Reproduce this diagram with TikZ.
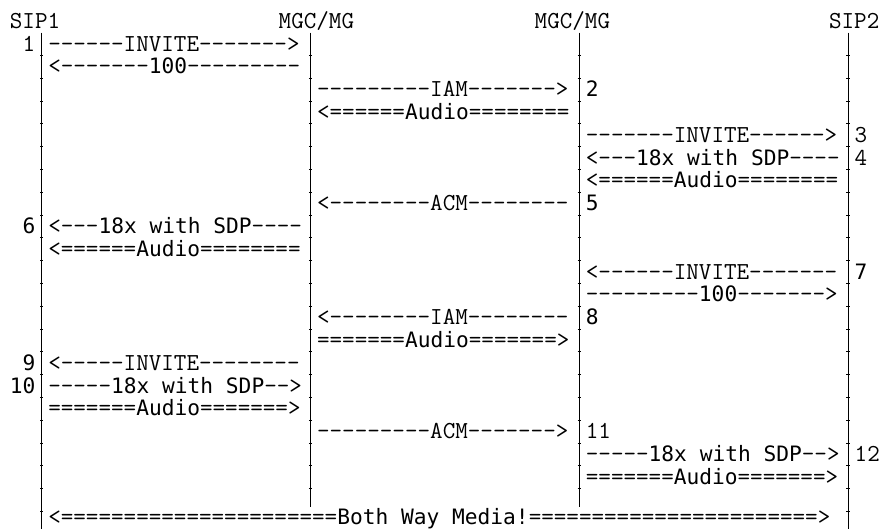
\documentclass[tikz,border=0pt]{standalone}
\usepackage{fontspec}
\newfontfamily\dvmono{DejaVu Sans Mono}
\usepackage{tikz}
\tikzstyle{txt} = [anchor=base west, inner sep=0pt, yshift=-7.2pt, font=\ttfamily\fontsize{24.4}{24.4}\selectfont]
\tikzstyle{life} = [line width=1.1pt]
\newcommand{\sn}[1]{{\dvmono\fontsize{21.2}{21.2}\selectfont #1}}

\begin{document}
\begin{tikzpicture}[x=12.8pt, y=-22.8pt]
    \useasboundingbox (-0.758,-0.93) rectangle (68.15,22.27);
    \node[txt] (sip1) at (0,0) {SIP1};
    \node[txt] (mgc1) at (21,0) {MGC/MG};
    \node[txt] (mgc2) at (41,0) {MGC/MG};
    \node[txt] (sip2) at (64,0) {SIP2};

    \coordinate (sip1top) at (2.5,0.5);   \coordinate (sip1bot) at (2.5,22.27);
    \coordinate (mgc1top) at (23.5,0.5);  \coordinate (mgc1bot) at (23.5,21.3);
    \coordinate (mgc2top) at (44.5,0.5);  \coordinate (mgc2bot) at (44.5,21.3);
    \coordinate (sip2top) at (65.5,0.5);  \coordinate (sip2bot) at (65.5,22.27);
    \draw[life] (sip1top) -- (sip1bot);
    \draw[life] (mgc1top) -- (mgc1bot);
    \draw[life] (mgc2top) -- (mgc2bot);
    \draw[life] (sip2top) -- (sip2bot);
    \foreach \r in {1.5,2.5,...,21.5}
        \draw[line width=0.6pt] (2.5,\r) ++(-1.6pt,0) -- ++(3.2pt,0)
                                (65.5,\r) ++(-1.6pt,0) -- ++(3.2pt,0);
    \foreach \r in {1.5,2.5,...,20.5}
        \draw[line width=0.6pt] (23.5,\r) ++(-1.6pt,0) -- ++(3.2pt,0)
                                (44.5,\r) ++(-1.6pt,0) -- ++(3.2pt,0);

    \node[txt] (n1) at (1,1) {1};
    \node[txt] (n2) at (45,3) {\sn{2}};
    \node[txt] (n3) at (66,5) {3};
    \node[txt] (n4) at (66,6) {4};
    \node[txt] (n5) at (45,8) {\sn{5}};
    \node[txt] (n6) at (1,9) {\sn{6}};
    \node[txt] (n7) at (66,11) {\sn{7}};
    \node[txt] (n8) at (45,13) {\sn{8}};
    \node[txt] (n9) at (1,15) {\sn{9}};
    \node[txt] (n10) at (0,16) {\sn{10}};
    \node[txt] (n11) at (45,18) {11};
    \node[txt] (n12) at (66,19) {12};

    \node[txt] (invite1) at (3,1) {------INVITE------->};
    \node[txt] (trying1) at (3,2) {<-------\sn{100}---------};
    \node[txt] (iam1) at (24,3) {---------IAM------->};
    \node[txt] (audio1) at (24,4) {<======\sn{Audio}========};
    \node[txt] (invite2) at (45,5) {-------INVITE------>};
    \node[txt] (sdp1) at (45,6) {<---\sn{18x with SDP}----};
    \node[txt] (audio2) at (45,7) {<======\sn{Audio}========};
    \node[txt] (acm1) at (24,8) {<--------ACM--------};
    \node[txt] (sdp2) at (3,9) {<---\sn{18x with SDP}----};
    \node[txt] (audio3) at (3,10) {<======\sn{Audio}========};
    \node[txt] (invite3) at (45,11) {<------INVITE-------};
    \node[txt] (trying2) at (45,12) {---------\sn{100}------->};
    \node[txt] (iam2) at (24,13) {<--------IAM--------};
    \node[txt] (audio4) at (24,14) {=======\sn{Audio}=======>};
    \node[txt] (invite4) at (3,15) {<-----INVITE--------};
    \node[txt] (sdp3) at (3,16) {-----\sn{18x with SDP}-->};
    \node[txt] (audio5) at (3,17) {=======\sn{Audio}=======>};
    \node[txt] (acm2) at (24,18) {---------ACM------->};
    \node[txt] (sdp4) at (45,19) {-----\sn{18x with SDP}-->};
    \node[txt] (audio6) at (45,20) {=======\sn{Audio}=======>};
    \node[txt] (media) at (3,21.75) {<======================\sn{Both Way Media!}=======================>};
\end{tikzpicture}
\end{document}
